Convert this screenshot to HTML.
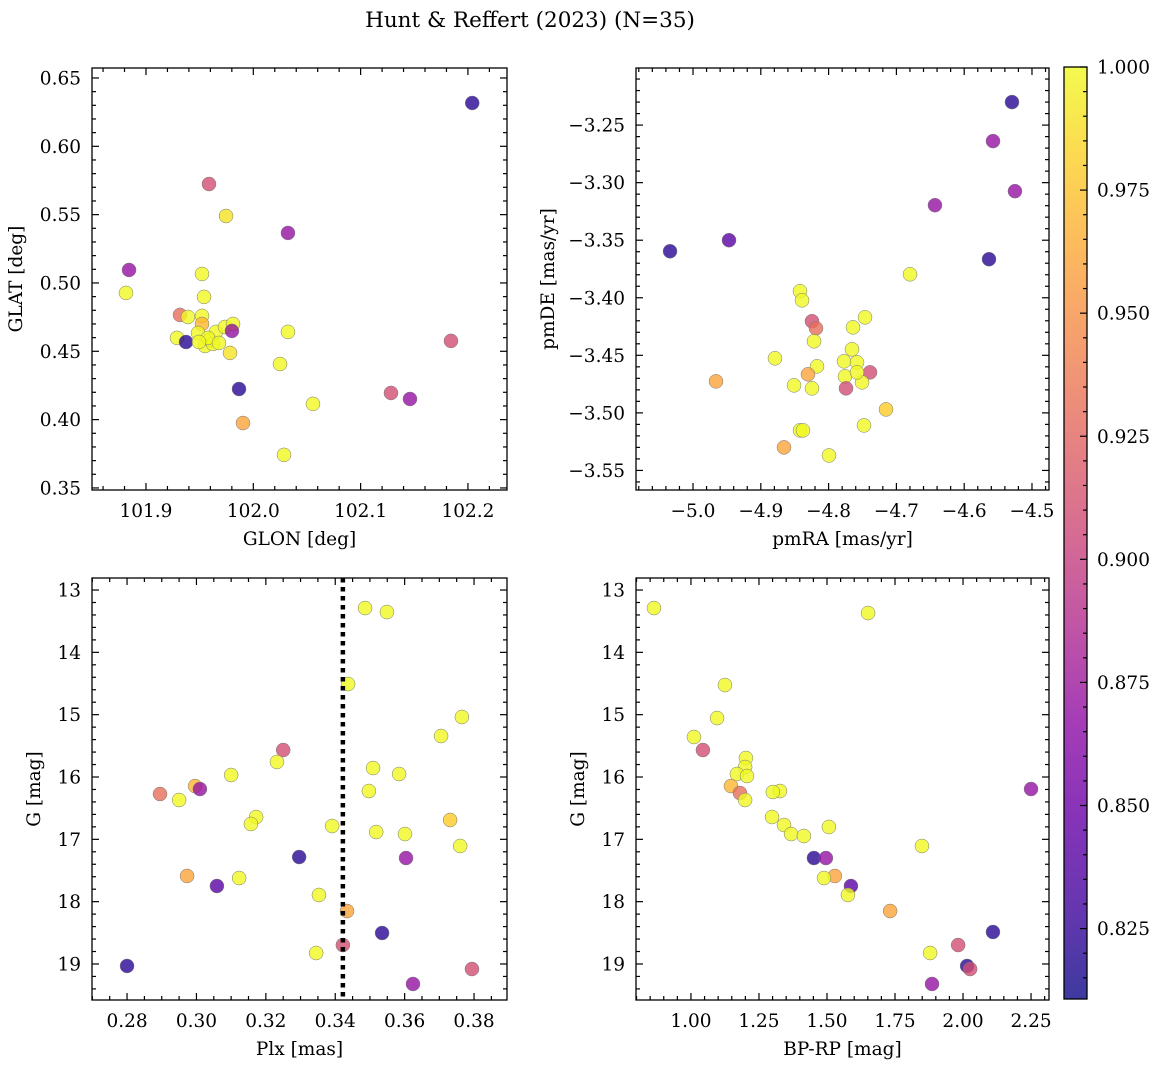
<!DOCTYPE html>
<html><head><meta charset="utf-8"><style>
html,body{margin:0;padding:0;background:#fff;}
svg{display:block;font-family:"DejaVu Serif","Liberation Serif",serif;}
</style></head><body>
<svg id="fig" width="1161" height="1067" viewBox="0 0 1161 1067" xmlns="http://www.w3.org/2000/svg">
<defs>
<linearGradient id="cbg" x1="0" y1="1" x2="0" y2="0">
<stop offset="0" stop-color="#0d0887"/><stop offset="0.1" stop-color="#41049d"/><stop offset="0.2" stop-color="#6a00a8"/><stop offset="0.3" stop-color="#8f0da4"/><stop offset="0.4" stop-color="#b12a90"/><stop offset="0.5" stop-color="#cc4778"/><stop offset="0.6" stop-color="#e16462"/><stop offset="0.7" stop-color="#f2844b"/><stop offset="0.8" stop-color="#fca636"/><stop offset="0.9" stop-color="#fcce25"/><stop offset="1" stop-color="#f0f921"/>
</linearGradient>
</defs>
<text x="530" y="27" font-size="21.5" text-anchor="middle">Hunt &amp; Reffert (2023) (N=35)</text>
</svg>
<script>
// ---- data ----
const prob = [0.82,0.91,0.99,0.87,0.87,1.0,1.0,1.0,0.93,1.0,1.0,0.97,1.0,0.82,1.0,1.0,1.0,1.0,1.0,1.0,1.0,0.87,1.0,0.99,0.82,0.96,1.0,1.0,1.0,0.91,0.87,0.91,1.0,1.0,1.0];
const glon = [102.204,101.9587,101.9746,102.0323,101.8842,101.8814,101.9522,101.9541,101.9317,101.9391,101.9522,101.9522,101.9289,101.9373,101.9485,101.9550,101.9596,101.9624,101.9652,101.9736,101.9811,101.9801,102.0323,101.9783,101.9867,101.9904,102.0249,102.0556,102.0286,102.1283,102.1460,102.1842,101.9578,101.9494,101.968];
const glat = [0.6317,0.5724,0.5490,0.5366,0.5095,0.4927,0.5066,0.4898,0.4766,0.4751,0.4759,0.4700,0.4598,0.4568,0.4634,0.4539,0.4583,0.4554,0.4642,0.4678,0.4700,0.4649,0.4642,0.4488,0.4224,0.3975,0.4407,0.4115,0.3742,0.4195,0.4151,0.4576,0.4598,0.4568,0.4561];

const probPM = [0.82,0.87,0.87,0.87,0.82,0.84,0.82,1.0,1.0,1.0,0.91,0.93,1.0,1.0,1.0,1.0,1.0,1.0,1.0,1.0,0.91,1.0,1.0,0.96,1.0,1.0,0.91,0.98,1.0,1.0,1.0,0.96,0.96,1.0,1.0];
const pmra = [-4.5295,-4.5575,-4.5251,-4.6431,-5.0339,-4.9469,-4.5634,-4.6799,-4.8422,-4.8392,-4.8245,-4.8186,-4.7463,-4.7640,-4.8215,-4.8791,-4.7655,-4.7773,-4.8171,-4.7581,-4.7389,-4.7758,-4.7507,-4.8304,-4.8510,-4.8245,-4.7743,-4.7153,-4.7478,-4.8422,-4.8378,-4.9661,-4.8658,-4.7994,-4.7581];
const pmde = [-3.2300,-3.2639,-3.3074,-3.3196,-3.3596,-3.3500,-3.3665,-3.3796,-3.3943,-3.4022,-3.4204,-3.4265,-3.4170,-3.4257,-3.4378,-3.4526,-3.4448,-3.4552,-3.4596,-3.4561,-3.4648,-3.4683,-3.4735,-3.4665,-3.4761,-3.4787,-3.4787,-3.4970,-3.5109,-3.5152,-3.5152,-3.4726,-3.5300,-3.5370,-3.4648];

const probPlx = [1.0,1.0,1.0,1.0,1.0,0.91,1.0,1.0,1.0,1.0,0.93,0.97,0.87,1.0,1.0,1.0,1.0,1.0,1.0,1.0,0.98,1.0,0.82,0.87,0.96,1.0,0.84,1.0,0.96,0.82,0.91,1.0,0.82,0.91,0.87];
const plx = [0.3486,0.3549,0.3437,0.3765,0.3705,0.3250,0.3232,0.3509,0.3100,0.3584,0.2895,0.2996,0.3010,0.2950,0.3497,0.3172,0.3157,0.3391,0.3518,0.3601,0.3731,0.3760,0.3296,0.3604,0.2973,0.3123,0.3059,0.3353,0.3434,0.3535,0.3422,0.3345,0.2800,0.3794,0.3624];
const gPlx = [13.289,13.353,14.508,15.037,15.342,15.567,15.759,15.856,15.968,15.952,16.273,16.145,16.193,16.369,16.225,16.642,16.754,16.786,16.883,16.915,16.690,17.107,17.284,17.300,17.588,17.621,17.749,17.893,18.150,18.503,18.696,18.824,19.032,19.081,19.321];
const meanPlx = 0.3422;

const probCmd = [1.0,1.0,1.0,1.0,0.87,1.0,0.91,1.0,1.0,1.0,1.0,0.97,1.0,0.93,1.0,1.0,1.0,1.0,1.0,1.0,1.0,0.82,0.87,1.0,0.96,1.0,0.84,1.0,0.96,0.82,0.91,1.0,0.82,0.91,0.87];
const bprp = [0.864,1.651,1.125,1.096,2.250,1.011,1.044,1.202,1.199,1.169,1.206,1.147,1.327,1.180,1.199,1.301,1.849,1.507,1.298,1.342,1.368,1.452,1.496,1.415,1.529,1.489,1.588,1.577,1.732,2.110,1.982,1.879,2.015,2.026,1.886];
const gCmd = [13.289,13.369,14.524,15.054,16.193,15.358,15.567,15.695,15.840,15.952,15.984,16.145,16.225,16.257,16.369,16.241,17.107,16.802,16.642,16.770,16.915,17.300,17.300,16.947,17.588,17.621,17.749,17.893,18.150,18.487,18.696,18.824,19.032,19.081,19.321];

const cbTicks = [0.825,0.850,0.875,0.900,0.925,0.950,0.975,1.000];
const cMin = 0.8107, cMax = 1.0;

// ---- rendering ----
const NS = "http://www.w3.org/2000/svg";
const svg = document.getElementById('fig');
const FS = 18.5;
const plasma = [[13,8,135],[65,4,157],[106,0,168],[143,13,164],[177,42,144],[204,71,120],[225,100,98],[242,132,75],[252,166,54],[252,206,37],[240,249,33]];
function cmap(v){
  let t=(v-cMin)/(cMax-cMin); t=Math.max(0,Math.min(1,t));
  const f=t*10, i=Math.min(9,Math.floor(f)), r=f-i;
  const a=plasma[i], b=plasma[i+1];
  return 'rgb('+a.map((c,k)=>Math.round(c+(b[k]-c)*r)).join(',')+')';
}
function el(tag, attrs, parent){
  const e=document.createElementNS(NS,tag);
  for(const k in attrs) e.setAttribute(k,attrs[k]);
  (parent||svg).appendChild(e); return e;
}
function fmt(v,d){return (Math.abs(v)<1e-9?0:v).toFixed(d).replace('-','\u2212');}

function panel(o){
  const g=el('g',{});
  
  
  const L=o.box[0],T=o.box[1],R=o.box[2],B=o.box[3];
  const sx=v=>L+(v-o.xlim[0])/(o.xlim[1]-o.xlim[0])*(R-L);
  const sy=v=> o.invert ? T+(v-o.ylim[0])/(o.ylim[1]-o.ylim[0])*(B-T) : B-(v-o.ylim[0])/(o.ylim[1]-o.ylim[0])*(B-T);
  for(let i=0;i<o.xs.length;i++){
    const c=el('circle',{cx:sx(o.xs[i]),cy:sy(o.ys[i]),r:7,fill:cmap(o.cs[i]),'fill-opacity':0.8,stroke:'#777','stroke-width':0.5},g);
    
    
  }
  if(o.vline!==undefined){
    const ln=el('line',{x1:sx(o.vline),x2:sx(o.vline),y1:T,y2:B,stroke:'#000','stroke-width':4.5,'stroke-dasharray':'4.5 4.5'},g);
    
    
  }
  const tk=el('g',{stroke:'#000','stroke-width':1.2},g);
  const eps=1e-9;
  for(let v=Math.ceil(o.xlim[0]/o.xminor-eps)*o.xminor; v<=o.xlim[1]+eps; v+=o.xminor){
    const x=sx(v); const maj=Math.abs(v/o.xmajor-Math.round(v/o.xmajor))<1e-6; const len=maj?7:4;
    el('line',{x1:x,x2:x,y1:B,y2:B-len},tk); el('line',{x1:x,x2:x,y1:T,y2:T+len},tk);
    if(maj){const t=el('text',{x:x,y:B+27,'font-size':FS,'text-anchor':'middle',stroke:'none',fill:'#000'},g);t.textContent=fmt(v,o.xdec);
      }
  }
  const ylo=Math.min(o.ylim[0],o.ylim[1]), yhi=Math.max(o.ylim[0],o.ylim[1]);
  for(let v=Math.ceil(ylo/o.yminor-eps)*o.yminor; v<=yhi+eps; v+=o.yminor){
    const y=sy(v); const maj=Math.abs(v/o.ymajor-Math.round(v/o.ymajor))<1e-6; const len=maj?7:4;
    el('line',{x1:L,x2:L+len,y1:y,y2:y},tk); el('line',{x1:R,x2:R-len,y1:y,y2:y},tk);
    if(maj){const t=el('text',{x:L-11,y:y+6.5,'font-size':FS,'text-anchor':'end',stroke:'none',fill:'#000'},g);t.textContent=fmt(v,o.ydec);
      }
  }
  el('rect',{x:L,y:T,width:R-L,height:B-T,fill:'none',stroke:'#000','stroke-width':1.3},g);
  const xl=el('text',{x:(L+R)/2,y:B+55,'font-size':FS,'text-anchor':'middle'},g); xl.textContent=o.xlabel;
   
  const yx=L-(o.ylabOff||64), yy=(T+B)/2;
  const yl=el('text',{x:yx,y:yy,'font-size':FS,'text-anchor':'middle',transform:`rotate(-90 ${yx} ${yy})`},g); yl.textContent=o.ylabel;
   
}

panel({name:'glon-glat-panel',box:[92,68,507,490],xlim:[101.8497,102.2364],ylim:[0.3485,0.6573],xs:glon,ys:glat,cs:prob,
  xmajor:0.1,xminor:0.02,ymajor:0.05,yminor:0.01,xdec:1,ydec:2,xlabel:'GLON [deg]',ylabel:'GLAT [deg]',ylabOff:70});
panel({name:'proper-motion-panel',box:[636,68,1049,490],xlim:[-5.0841,-4.4749],ylim:[-3.567,-3.2004],xs:pmra,ys:pmde,cs:probPM,
  xmajor:0.1,xminor:0.02,ymajor:0.05,yminor:0.01,xdec:1,ydec:2,xlabel:'pmRA [mas/yr]',ylabel:'pmDE [mas/yr]',ylabOff:82});
panel({name:'parallax-magnitude-panel',box:[92,578,507,1000],xlim:[0.2699,0.3895],ylim:[12.807,19.578],invert:true,xs:plx,ys:gPlx,cs:probPlx,
  xmajor:0.02,xminor:0.005,ymajor:1,yminor:0.2,xdec:2,ydec:0,xlabel:'Plx [mas]',ylabel:'G [mag]',ylabOff:52,vline:meanPlx});
panel({name:'color-magnitude-panel',box:[636,578,1049,1000],xlim:[0.798,2.316],ylim:[12.807,19.578],invert:true,xs:bprp,ys:gCmd,cs:probCmd,
  xmajor:0.25,xminor:0.05,ymajor:1,yminor:0.2,xdec:2,ydec:0,xlabel:'BP-RP [mag]',ylabel:'G [mag]',ylabOff:52});

const cb=el('g',{});


const cT=67,cB=999,cL=1064,cR=1087;
el('rect',{x:cL,y:cT,width:cR-cL,height:cB-cT,fill:'url(#cbg)','fill-opacity':0.8},cb);
const cy=v=>cB-(v-cMin)/(cMax-cMin)*(cB-cT);
for(let k=Math.ceil(cMin/0.005);k*0.005<=cMax+1e-9;k++){
  const v=k*0.005, y=cy(v), maj=(k%5===0);
  el('line',{x1:cR,x2:cR-(maj?7:4),y1:y,y2:y,stroke:'#000','stroke-width':1.2},cb);
}
cbTicks.forEach(v=>{
  const t=el('text',{x:cR+10,y:cy(v)+6.5,'font-size':FS},cb); t.textContent=v.toFixed(3);
   
});
el('rect',{x:cL,y:cT,width:cR-cL,height:cB-cT,fill:'none',stroke:'#000','stroke-width':1.3},cb);
</script>
</body></html>
